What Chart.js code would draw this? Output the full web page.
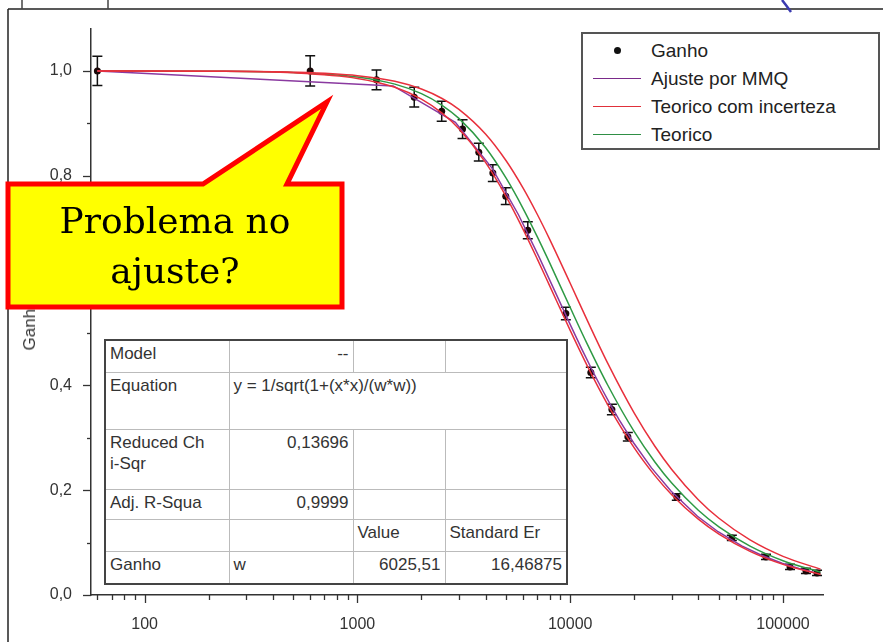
<!DOCTYPE html>
<html>
<head>
<meta charset="utf-8">
<script src="https://cdn.jsdelivr.net/npm/chart.js@4"></script>
<style>
body{margin:0;background:#fff;font-family:"Liberation Sans",Arial,sans-serif}
#wrap{position:relative;width:883px;height:642px;overflow:hidden;background:#fff}
#grafico{position:absolute;left:0;top:0}
.legenda{position:absolute;left:581px;top:32px;width:295px;height:114px;border:2px solid #555;background:#fff;color:#222;font-size:19px}
.legenda .item{position:absolute;left:0;height:24px;line-height:24px;white-space:nowrap}
.legenda .amostra{position:absolute;left:10px;width:48px;top:11px;height:0;border-top:1.5px solid}
.legenda .ponto{position:absolute;left:31px;top:8px;width:7px;height:7px;border-radius:50%;background:#111}
.legenda span.txt{position:absolute;left:68px}
table.fit{position:absolute;left:104px;top:339px;width:462px;table-layout:fixed;border-collapse:collapse;background:#fff;border:2px solid #444;color:#333;font-size:17px}
table.fit td{border:1px solid #bbb;padding:2px 4px 0 4px;vertical-align:top;line-height:21px;white-space:nowrap;overflow:hidden}
table.fit td.num{text-align:right}
#titY{position:absolute;left:30px;top:325px;transform:translate(-50%,-50%) rotate(-90deg);font-size:17px;color:#333;white-space:nowrap}
#balao{position:absolute;left:0;top:0}
.balaoTxt{position:absolute;left:8px;width:334px;text-align:center;font-family:"DejaVu Serif",serif;font-size:36px;color:#000;line-height:50px}
</style>
</head>
<body>
<div id="wrap">
<canvas id="grafico" width="883" height="642"></canvas>

<div id="titY">Ganho</div>

<div class="legenda">
<div class="item" style="top:5px"><div class="ponto"></div><span class="txt">Ganho</span></div>
<div class="item" style="top:33px"><div class="amostra" style="border-color:#7a2a8a"></div><span class="txt">Ajuste por MMQ</span></div>
<div class="item" style="top:61px"><div class="amostra" style="border-color:#e0303a"></div><span class="txt">Teorico com incerteza</span></div>
<div class="item" style="top:89px"><div class="amostra" style="border-color:#2f8f45"></div><span class="txt">Teorico</span></div>
</div>

<table class="fit">
<colgroup><col style="width:124px"><col style="width:124px"><col style="width:92px"><col style="width:122px"></colgroup>
<tr style="height:32px"><td>Model</td><td class="num">--</td><td></td><td></td></tr>
<tr style="height:57px"><td>Equation</td><td colspan="3">y = 1/sqrt(1+(x*x)/(w*w))</td></tr>
<tr style="height:60px"><td>Reduced Ch<br>i-Sqr</td><td class="num">0,13696</td><td></td><td></td></tr>
<tr style="height:30px"><td>Adj. R-Squa</td><td class="num">0,9999</td><td></td><td></td></tr>
<tr style="height:32px"><td></td><td></td><td>Value</td><td>Standard Er</td></tr>
<tr style="height:33px"><td>Ganho</td><td>w</td><td class="num">6025,51</td><td class="num">16,46875</td></tr>
</table>

<svg id="balao" width="883" height="642">
<line x1="8" y1="9" x2="883" y2="9" stroke="#222" stroke-width="1.5"/>
<line x1="8" y1="9" x2="8" y2="642" stroke="#222" stroke-width="1.5"/>
<line x1="22" y1="0" x2="22" y2="9" stroke="#444" stroke-width="1.5"/>
<line x1="108" y1="0" x2="108" y2="9" stroke="#444" stroke-width="1.5"/>
<path d="M782,0 Q786,5 791,12" fill="none" stroke="#3b3bb0" stroke-width="2.5"/>
<polygon points="8,184 203,184 327,102 287,184 342,184 342,307 8,307" fill="#ffff00" stroke="#ff0000" stroke-width="5" stroke-linejoin="miter"/>
</svg>
<div class="balaoTxt" style="top:196px">Problema no<br>ajuste?</div>
</div>

<script>

// medidas: frequência (Hz), ganho e incerteza
const freq=[60,600,1230,1850,2490,3120,3720,4330,4980,6320,9540,12500,15700,18660,31700,57500,83200,107900,128200,144500]
const ganho=[1.000,1.000,0.983,0.950,0.923,0.889,0.845,0.805,0.761,0.696,0.537,0.4245,0.354,0.302,0.187,0.109,0.0727,0.0535,0.046,0.042]
const erro=[0.028,0.029,0.019,0.019,0.019,0.018,0.017,0.016,0.016,0.016,0.012,0.010,0.010,0.008,0.006,0.005,0.005,0.005,0.005,0.005]

// curva do ajuste (pontos do Origin, espaçados linearmente)
const ajusteX=[60,1473,2887,4300,5714,7127,8541,9954,11368,12781,14195,15608,17022,19849,24090,29744,39638,49533,64000,79216,99005,118790,140000]
const ajusteY=[1.000,0.9714,0.9018,0.8140,0.7256,0.6456,0.5764,0.5178,0.4683,0.4264,0.3907,0.3601,0.3337,0.2905,0.2426,0.1985,0.1503,0.1207,0.0937,0.0758,0.0607,0.0507,0.0430]

// curvas teóricas
const teoX=[60,200,500,1000,1500,2000,2500,3000,4000,5000,6000,7000,8000,10000,12000,15000,20000,25000,30000,40000,50000,70000,100000,150000]
const teoY=[1.000,0.9995,0.9971,0.9886,0.9748,0.9566,0.9345,0.9094,0.8538,0.7953,0.7379,0.6838,0.6341,0.5485,0.4796,0.4007,0.3116,0.2538,0.2136,0.1618,0.1301,0.0933,0.0655,0.0437]
const incInf=[1.000,0.9994,0.9964,0.9857,0.9687,0.9462,0.9195,0.8898,0.8254,0.7602,0.6982,0.6413,0.5903,0.5049,0.4382,0.3634,0.2807,0.2278,0.1914,0.1447,0.1162,0.0833,0.0584,0.0390]
const incSup=[1.000,0.9996,0.9977,0.9910,0.9801,0.9654,0.9474,0.9267,0.8797,0.8286,0.7768,0.7265,0.6791,0.5949,0.5249,0.4424,0.3470,0.2838,0.2395,0.1819,0.1464,0.1051,0.0738,0.0493]

const xMin=56, xMax=155000, yMin=0, yMax=1.08

const pares=(xs,ys)=>xs.map((v,i)=>({x:v,y:ys[i]}))

const curva=(dados,cor,ordem,suave)=>({
data:dados,
showLine:true,
borderColor:cor,
borderWidth:1.5,
pointRadius:0,
fill:false,
order:ordem,
cubicInterpolationMode:suave?"monotone":"default",
tension:0
})


// barras de erro desenhadas antes dos pontos
const barrasErro={
id:"barrasErro",
beforeDatasetsDraw(chart){
const {ctx,scales:{x,y}}=chart
ctx.save()
ctx.strokeStyle="#111"
ctx.lineWidth=1.5
freq.forEach((f,i)=>{
const px=x.getPixelForValue(f)
const y1=y.getPixelForValue(ganho[i]-erro[i])
const y2=y.getPixelForValue(ganho[i]+erro[i])
ctx.beginPath()
ctx.moveTo(px,y1);ctx.lineTo(px,y2)
ctx.moveTo(px-5,y1);ctx.lineTo(px+5,y1)
ctx.moveTo(px-5,y2);ctx.lineTo(px+5,y2)
ctx.stroke()
})
ctx.restore()
}
}


// marcas dos eixos: maiores nas décadas / múltiplos de 0,2
const marcas={
id:"marcas",
afterDraw(chart){
const {ctx,chartArea,scales:{x,y}}=chart
ctx.save()
ctx.strokeStyle="#333"
ctx.lineWidth=1.3
x.ticks.forEach(t=>{
const e=Math.floor(Math.log10(t.value)+1e-9)
const m=t.value/Math.pow(10,e)
if(Math.abs(m-Math.round(m))>1e-6) return
const len=Math.round(m)===1?8:5
const px=Math.round(x.getPixelForValue(t.value))+0.5
ctx.beginPath()
ctx.moveTo(px,chartArea.bottom)
ctx.lineTo(px,chartArea.bottom+len)
ctx.stroke()
})
y.ticks.forEach(t=>{
const d=t.value*10
if(Math.abs(d-Math.round(d))>1e-6) return
const len=Math.round(d)%2===0?8:4
const py=Math.round(y.getPixelForValue(t.value))+0.5
ctx.beginPath()
ctx.moveTo(chartArea.left,py)
ctx.lineTo(chartArea.left-len,py)
ctx.stroke()
})
ctx.restore()
}
}


new Chart(document.getElementById("grafico"),{

type:"scatter",

data:{
datasets:[
{
label:"Ganho",
data:pares(freq,ganho),
pointRadius:3.5,
pointHoverRadius:3.5,
backgroundColor:"#1a0808",
borderWidth:0,
order:5
},
{label:"Ajuste por MMQ",...curva(pares(ajusteX,ajusteY),"#8a3aa0",1,false)},
{label:"Teorico",...curva(pares(teoX,teoY),"#2f9a45",2,true)},
{label:"Teorico com incerteza",...curva(pares(teoX,incInf),"#e8303c",0,true)},
{label:"Teorico com incerteza (sup)",...curva(pares(teoX,incSup),"#e8303c",0,true)}
]
},

options:{
responsive:false,
animation:false,
layout:{padding:{top:29,right:59.5,left:0,bottom:0}},
plugins:{legend:{display:false},tooltip:{enabled:false}},
scales:{
x:{
type:"logarithmic",
min:xMin,
max:xMax,
grid:{display:false},
border:{display:true,color:"#333",width:1.5},
afterFit(s){s.height=47},
ticks:{
autoSkip:false,
maxRotation:0,
padding:12,
color:"#333",
font:{family:"Liberation Sans, Arial",size:16},
callback(v){
const l=Math.log10(v)
return Math.abs(l-Math.round(l))<1e-9?String(Math.round(v)):""
}
}
},
y:{
min:yMin,
max:yMax,
grid:{display:false},
border:{display:true,color:"#333",width:1.5},
afterFit(s){s.width=91},
ticks:{
stepSize:0.1,
autoSkip:false,
padding:11,
color:"#333",
font:{family:"Liberation Sans, Arial",size:16},
callback(v){
const d=Math.round(v*10)
if(Math.abs(v*10-d)>1e-6||d%2!==0) return ""
return (d/10).toFixed(1).replace(".",",")
}
}
}
}
},

plugins:[barrasErro,marcas]

})

</script>
</body>
</html>
